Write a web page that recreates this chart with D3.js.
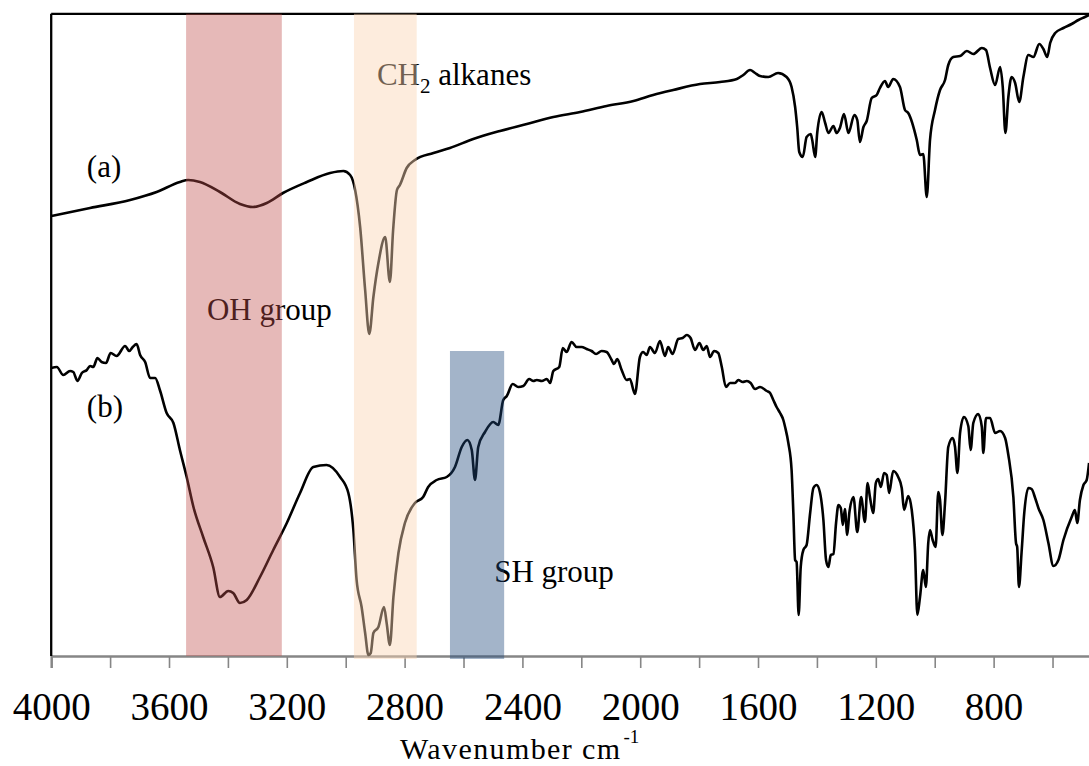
<!DOCTYPE html>
<html>
<head>
<meta charset="utf-8">
<script src="https://cdn.jsdelivr.net/npm/d3@7"></script>
<style>
  body { margin: 0; background: #fff; }
  svg { display: block; }
  text { font-family: "Liberation Serif", "Times New Roman", serif; fill: #000; }
</style>
</head>
<body>
<div id="chart"></div>
<script>
// FTIR spectra, [wavenumber cm-1, transmittance (arbitrary units)]
const specA = [
  [4000,44.0],[3868,44.8],[3732,45.6],[3642,46.4],[3563,47.4],[3535,47.6],[3495,47.4],[3427,46.4],
  [3359,45.2],[3315,44.9],[3268,45.3],[3213,46.3],[3132,47.4],[3053,48.3],[3008,48.5],[2985,48.1],
  [2968,46.6],[2951,42.9],[2934,36.6],[2920,32.2],[2906,35.9],[2889,39.3],[2866,41.9],[2850,37.4],
  [2839,42.6],[2826,46.6],[2816,47.1],[2793,48.8],[2765,49.6],[2702,50.3],[2646,50.8],[2567,51.7],
  [2476,52.5],[2385,53.2],[2295,53.9],[2204,54.4],[2114,55.0],[2023,55.5],[1956,56.1],[1888,56.6],
  [1797,57.2],[1729,57.4],[1672,57.7],[1650,58.1],[1627,58.6],[1610,58.3],[1593,58.0],[1565,57.9],
  [1532,58.3],[1503,57.9],[1486,56.9],[1474,54.9],[1467,52.9],[1460,50.4],[1448,49.9],[1435,51.9],
  [1421,52.2],[1416,51.6],[1406,49.9],[1399,52.3],[1384,54.4],[1372,53.3],[1361,52.3],[1344,53.0],
  [1333,52.3],[1322,52.8],[1308,54.2],[1293,52.3],[1273,54.1],[1263,53.6],[1254,51.4],[1242,52.9],
  [1231,53.5],[1214,55.8],[1197,56.1],[1186,56.8],[1169,57.5],[1158,56.9],[1141,57.7],[1118,56.9],
  [1101,54.6],[1090,54.3],[1061,51.6],[1050,50.1],[1039,50.2],[1027,45.9],[1016,51.6],[999,54.6],
  [982,56.6],[965,57.6],[954,59.1],[937,59.9],[914,60.0],[891,60.5],[869,60.2],[840,60.8],
  [826,60.6],[812,58.8],[795,57.1],[778,58.9],[769,56.9],[760,52.3],[750,55.9],[739,57.9],
  [727,57.3],[713,55.4],[699,57.9],[682,60.1],[665,59.9],[645,61.2],[631,60.7],[618,59.9],
  [608,61.3],[591,62.3],[563,62.8],[535,63.2],[512,63.6],[490,63.9],[476,64.1]
];

const specB = [
  [4000,28.8],[3981,28.9],[3959,28.1],[3936,28.5],[3925,28.4],[3911,27.5],[3896,28.3],[3879,28.6],
  [3868,29.0],[3857,28.9],[3843,29.8],[3829,29.4],[3814,29.3],[3798,30.3],[3778,30.0],[3749,31.0],
  [3735,30.5],[3723,30.9],[3710,31.2],[3698,30.1],[3681,29.4],[3664,27.8],[3647,27.8],[3631,26.6],
  [3608,24.3],[3585,23.3],[3563,20.6],[3540,17.9],[3517,14.9],[3484,11.9],[3450,8.9],[3427,5.9],
  [3399,6.5],[3382,6.3],[3359,5.3],[3336,5.6],[3291,7.9],[3246,10.6],[3200,13.3],[3155,16.3],
  [3110,18.9],[3065,19.1],[3019,17.9],[2991,16.3],[2974,12.6],[2963,7.6],[2946,4.9],[2934,2.3],
  [2923,0.1],[2915,0.3],[2906,2.3],[2889,2.9],[2870,4.9],[2861,3.3],[2850,1.1],[2838,5.9],
  [2821,10.3],[2799,13.3],[2765,15.3],[2737,15.9],[2720,16.9],[2691,17.6],[2657,17.9],[2629,18.9],
  [2606,20.9],[2587,21.6],[2572,20.6],[2561,17.6],[2550,20.9],[2527,22.4],[2499,23.4],[2482,23.1],
  [2465,25.6],[2453,26.0],[2433,27.2],[2414,26.9],[2397,27.0],[2377,27.7],[2363,27.5],[2351,27.6],
  [2334,27.5],[2317,27.7],[2306,27.3],[2295,28.5],[2275,28.9],[2263,30.8],[2250,30.4],[2233,31.4],
  [2216,30.9],[2199,30.9],[2182,30.7],[2165,30.5],[2150,30.2],[2131,30.5],[2114,30.4],[2097,29.6],
  [2089,29.2],[2078,29.7],[2063,28.6],[2046,27.6],[2035,27.7],[2018,26.2],[2001,29.9],[1990,30.4],
  [1978,30.1],[1967,30.9],[1950,30.3],[1933,31.5],[1916,30.0],[1905,30.9],[1890,30.2],[1871,31.7],
  [1856,31.8],[1842,32.1],[1829,31.8],[1814,30.6],[1799,31.3],[1786,30.6],[1774,31.0],[1763,29.9],
  [1749,30.5],[1735,30.3],[1723,28.9],[1709,26.9],[1695,27.3],[1678,27.3],[1667,27.6],[1652,27.4],
  [1638,27.5],[1625,27.3],[1610,26.7],[1593,26.9],[1570,26.5],[1559,26.3],[1548,25.6],[1537,24.9],
  [1525,24.3],[1514,23.6],[1508,22.9],[1497,21.3],[1486,18.6],[1480,14.3],[1474,9.6],[1469,9.4],
  [1462,4.1],[1455,8.9],[1446,10.6],[1435,11.1],[1423,14.3],[1412,16.8],[1401,17.1],[1390,16.4],
  [1378,13.6],[1369,9.6],[1361,8.9],[1353,10.1],[1344,10.2],[1335,13.3],[1327,15.1],[1319,14.8],
  [1312,13.1],[1305,14.7],[1297,12.1],[1290,14.3],[1276,15.9],[1263,12.4],[1250,15.9],[1237,13.4],
  [1228,17.3],[1220,15.9],[1209,14.3],[1200,17.3],[1192,17.7],[1183,16.9],[1172,18.3],[1163,18.1],
  [1155,16.3],[1141,18.5],[1124,17.9],[1112,16.8],[1104,14.6],[1090,16.0],[1078,14.6],[1067,10.6],
  [1059,4.1],[1050,5.9],[1039,8.6],[1030,6.9],[1022,11.3],[1016,12.6],[1007,11.6],[997,10.9],
  [988,16.4],[982,15.6],[974,12.1],[965,15.3],[954,20.9],[939,21.8],[931,20.9],[923,18.3],
  [914,22.3],[901,23.9],[886,23.0],[878,20.6],[869,23.3],[852,24.2],[840,22.9],[835,20.3],
  [826,23.8],[812,23.8],[795,22.3],[778,22.5],[761,21.8],[750,20.1],[733,15.9],[724,11.3],
  [720,10.9],[714,6.9],[705,10.4],[696,14.3],[682,16.8],[671,16.7],[659,15.8],[648,14.8],
  [631,13.6],[614,11.3],[597,9.0],[580,9.6],[563,11.6],[535,13.9],[524,14.6],[516,13.3],
  [507,15.6],[495,17.1],[484,17.6],[476,19.3]
];

// highlighted absorption regions [from, to] in cm-1, top in transmittance units
const bands = [
  { key: "oh",  from: 3542, to: 3217, top: 64.22, bottom: 0 },
  { key: "ch2", from: 2972, to: 2759, top: 64.22, bottom: -0.3 },
  { key: "sh",  from: 2646, to: 2462, top: 30.5,  bottom: -0.3 }
];

const xTicks = d3.range(4000, 450, -200);

const bandStyle = {
  oh:  { fill: "#C0504D", opacity: 0.4 },
  ch2: { fill: "#FBD4B4", opacity: 0.45 },
  sh:  { fill: "#1F497D", opacity: 0.41 }
};

const W = 1089, H = 766;
const margin = { left: 51.2, top: 13.8 };
const plotW = 1045.5, plotH = 642.2;

const svg = d3.select("#chart").append("svg")
  .attr("width", W).attr("height", H);

const g = svg.append("g").attr("transform", `translate(${margin.left},${margin.top})`);

const x = d3.scaleLinear().domain([4000, 450]).range([0, plotW]);
const y = d3.scaleLinear().domain([0, 64.22]).range([plotH, 0]);

g.append("clipPath").attr("id", "plotClip")
  .append("rect").attr("x", 0).attr("y", -2).attr("width", plotW).attr("height", plotH + 4);

// x axis
const xAxis = d3.axisBottom(x)
  .tickValues(xTicks)
  .tickSize(12)
  .tickFormat(d => d % 400 === 0 ? d : "");

const axG = g.append("g").attr("transform", `translate(0,${plotH})`).call(xAxis);
axG.attr("font-family", null).attr("font-size", null);
axG.select(".domain").attr("stroke", "#868686").attr("stroke-width", 2.4);
axG.selectAll(".tick line").attr("stroke", "#868686").attr("stroke-width", 1.6);
axG.selectAll(".tick text")
  .attr("y", 63.5).attr("dy", null)
  .attr("font-size", 39)
  .attr("fill", "#000");

// frame: left and top
g.append("line").attr("x1", 0).attr("x2", 0).attr("y1", 0).attr("y2", plotH)
  .attr("stroke", "#000").attr("stroke-width", 2.3);
g.append("line").attr("x1", 0).attr("x2", plotW).attr("y1", 0).attr("y2", 0)
  .attr("stroke", "#000").attr("stroke-width", 2.3);

// spectra
const line = d3.line()
  .x(d => x(d[0]))
  .y(d => y(d[1]))
  .curve(d3.curveMonotoneX);

const curves = g.append("g").attr("clip-path", "url(#plotClip)");
[specA, specB].forEach(s => {
  curves.append("path")
    .datum(s)
    .attr("d", line)
    .attr("fill", "none")
    .attr("stroke", "#000")
    .attr("stroke-width", 2.6)
    .attr("stroke-linejoin", "round");
});

// annotations (placed in data coords)
const notes = [
  { text: "(a)", w: 3879, v: 47.9 },
  { text: "(b)", w: 3879, v: 23.9 },
  { text: "OH group", w: 3471, v: 33.6 },
  { text: "SH group", w: 2496, v: 7.4 }
];
notes.forEach(n => {
  g.append("text")
    .attr("x", x(n.w)).attr("y", y(n.v))
    .style("font-size", "31px")
    .text(n.text);
});

const ch2 = g.append("text")
  .attr("x", x(2894)).attr("y", y(57.1))
  .style("font-size", "31px");
ch2.append("tspan").text("CH");
ch2.append("tspan").attr("dy", 8).style("font-size", "21px").text("2");
ch2.append("tspan").attr("dy", -8).text(" alkanes");

// axis title
const title = svg.append("text")
  .attr("x", 400).attr("y", 759)
  .style("font-size", "30px");
title.append("tspan").style("letter-spacing", "1.4px").text("Wavenumber cm");
title.append("tspan").attr("dy", -16).attr("dx", 2).style("font-size", "19px").text("-1");

// translucent bands over everything
g.append("g").selectAll("rect")
  .data(bands)
  .join("rect")
  .attr("x", d => x(d.from))
  .attr("width", d => x(d.to) - x(d.from))
  .attr("y", d => y(d.top))
  .attr("height", d => y(d.bottom) - y(d.top))
  .attr("fill", d => bandStyle[d.key].fill)
  .attr("fill-opacity", d => bandStyle[d.key].opacity);
</script>
</body>
</html>
